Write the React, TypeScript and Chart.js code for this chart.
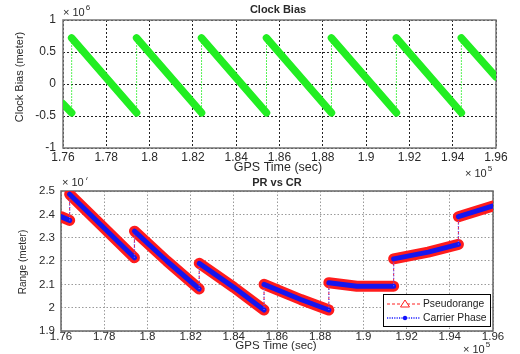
import React, { useEffect, useRef } from 'react';
import { Chart, registerables } from 'chart.js';

Chart.register(...registerables);

// ---- data ----
const xTicks = [1.76, 1.78, 1.8, 1.82, 1.84, 1.86, 1.88, 1.9, 1.92, 1.94, 1.96];
const clockTicks = [-1, -0.5, 0, 0.5, 1];
const rangeTicks = [1.9, 2, 2.1, 2.2, 2.3, 2.4, 2.5];

const clockTime = [1.76, 1.764, 1.764, 1.794, 1.794, 1.824, 1.824, 1.854, 1.854, 1.884, 1.884, 1.914, 1.914, 1.944, 1.944, 1.96];
const clockBias = [-0.31, -0.45, 0.72, -0.45, 0.72, -0.45, 0.72, -0.45, 0.72, -0.45, 0.72, -0.45, 0.72, -0.45, 0.72, 0.11];

const rangeTime = [1.76, 1.764, 1.764, 1.779, 1.794, 1.794, 1.809, 1.824, 1.824, 1.84, 1.854, 1.854, 1.871, 1.884, 1.884, 1.897, 1.914, 1.914, 1.93, 1.944, 1.944, 1.96];
const pseudorange = [2.39, 2.374, 2.486, 2.35, 2.214, 2.328, 2.2, 2.08, 2.19, 2.087, 1.99, 2.1, 2.035, 1.99, 2.107, 2.092, 2.092, 2.209, 2.238, 2.271, 2.39, 2.436];
const carrierPhase = [2.39, 2.374, 2.486, 2.35, 2.214, 2.328, 2.2, 2.08, 2.19, 2.087, 1.99, 2.1, 2.035, 1.99, 2.107, 2.092, 2.092, 2.209, 2.238, 2.271, 2.39, 2.436];

const FONT = '"Liberation Sans", Arial, Helvetica, sans-serif';

type Txt = { text: string; x: number; y: number; size: number; bold?: boolean; rotate?: boolean; sup?: string; align?: CanvasTextAlign };

const isJump = (c: any) => c.p0.parsed.x === c.p1.parsed.x;

function drawTexts(ctx: CanvasRenderingContext2D, items: Txt[]) {
  ctx.save();
  ctx.fillStyle = '#2a2a2a';
  ctx.textBaseline = 'middle';
  for (const t of items) {
    ctx.font = `${t.bold ? 'bold ' : ''}${t.size}px ${FONT}`;
    if (t.rotate) {
      ctx.save();
      ctx.translate(t.x, t.y);
      ctx.rotate(-Math.PI / 2);
      ctx.textAlign = 'center';
      ctx.fillText(t.text, 0, 0);
      ctx.restore();
    } else {
      ctx.textAlign = t.align || 'center';
      ctx.fillText(t.text, t.x, t.y);
      if (t.sup) {
        const w = ctx.measureText(t.text).width;
        ctx.font = `8px ${FONT}`;
        ctx.textAlign = 'left';
        ctx.fillText(t.sup, t.x + w + 1, t.y - 5);
      }
    }
  }
  ctx.restore();
}

function framePlugin(texts: Txt[], frameColor: string, legend: boolean) {
  return {
    id: 'framePlugin',
    beforeDatasetsDraw(chart: any) {
      const { ctx, chartArea: a } = chart;
      ctx.save();
      ctx.strokeStyle = frameColor;
      ctx.lineWidth = 1.5;
      ctx.strokeRect(a.left, a.top, a.right - a.left, a.bottom - a.top);
      ctx.restore();
    },
    afterDraw(chart: any) {
      const ctx: CanvasRenderingContext2D = chart.ctx;
      drawTexts(ctx, texts);
      if (legend) {
        const bx = 383, by = 117, bw = 107, bh = 32;
        ctx.save();
        ctx.fillStyle = '#fff';
        ctx.fillRect(bx, by, bw, bh);
        ctx.strokeStyle = '#000';
        ctx.lineWidth = 1;
        ctx.strokeRect(bx + 0.5, by + 0.5, bw, bh);
        // Pseudorange
        const y1 = by + 10, y2 = by + 24;
        ctx.strokeStyle = '#ff2020';
        ctx.setLineDash([3, 2]);
        ctx.beginPath();
        ctx.moveTo(387, y1); ctx.lineTo(420, y1); ctx.stroke();
        ctx.setLineDash([]);
        ctx.fillStyle = '#fff';
        ctx.beginPath();
        ctx.moveTo(405, y1 - 4); ctx.lineTo(409.5, y1 + 3); ctx.lineTo(400.5, y1 + 3); ctx.closePath();
        ctx.fill(); ctx.stroke();
        // Carrier phase
        ctx.strokeStyle = '#2020ff';
        ctx.lineWidth = 1.6;
        ctx.setLineDash([1.2, 1.2]);
        ctx.beginPath();
        ctx.moveTo(387, y2); ctx.lineTo(420, y2); ctx.stroke();
        ctx.setLineDash([]);
        ctx.fillStyle = '#1010ff';
        ctx.beginPath();
        ctx.arc(405, y2, 2.2, 0, Math.PI * 2);
        ctx.fill();
        ctx.fillStyle = '#222';
        ctx.font = `10.3px ${FONT}`;
        ctx.textAlign = 'left';
        ctx.textBaseline = 'middle';
        ctx.fillText('Pseudorange', 423, y1);
        ctx.fillText('Carrier Phase', 423, y2);
        ctx.restore();
      }
    },
  };
}

function axisOpts(min: number, max: number, ticks: number[], fit: (s: any) => void, gridColor: string, dash: number[], pad: number, size: number) {
  return {
    type: 'linear' as const,
    min,
    max,
    afterBuildTicks: (s: any) => {
      s.ticks = ticks.map((v) => ({ value: v }));
    },
    afterFit: fit,
    grid: { color: gridColor, lineWidth: 1, drawTicks: false },
    border: { display: false, dash },
    ticks: {
      autoSkip: false,
      maxRotation: 0,
      padding: pad,
      color: '#2a2a2a',
      font: { family: FONT, size },
      callback: (v: any) => String(v),
    },
  };
}

function TopChart() {
  const ref = useRef<HTMLCanvasElement>(null);
  useEffect(() => {
    const texts: Txt[] = [
      { text: 'Clock Bias', x: 278, y: 10, size: 11, bold: true },
      { text: 'GPS Time (sec)', x: 278, y: 168, size: 12.5 },
      { text: 'Clock Bias (meter)', x: 20, y: 77, size: 11, rotate: true },
      { text: '× 10', x: 63, y: 13, size: 11, align: 'left', sup: '6' },
      { text: '× 10', x: 465, y: 174, size: 11, align: 'left', sup: '5' },
    ];
    const chart = new Chart(ref.current!, {
      type: 'line',
      data: {
        datasets: [
          {
            label: 'Clock Bias',
            data: clockTime.map((x, i) => ({ x, y: clockBias[i] })),
            borderColor: '#22ee22',
            borderWidth: 7.5,
            borderCapStyle: 'round',
            borderJoinStyle: 'round',
            pointRadius: 0,
            segment: {
              borderWidth: (c: any) => (isJump(c) ? 1 : undefined),
              borderDash: (c: any) => (isJump(c) ? [1.5, 1.5] : undefined),
              borderCapStyle: (c: any) => (isJump(c) ? 'butt' : undefined),
            },
          } as any,
        ],
      },
      options: {
        animation: false,
        responsive: false,
        layout: { padding: { left: 0, top: 20, right: 24, bottom: 0 } },
        plugins: { legend: { display: false }, tooltip: { enabled: false } },
        scales: {
          x: axisOpts(1.76, 1.96, xTicks, (s: any) => { s.height = 32; }, '#222', [2, 2], 2, 12),
          y: axisOpts(-1, 1, clockTicks, (s: any) => { s.width = 63; }, '#222', [2, 2], 7, 12),
        },
      } as any,
      plugins: [framePlugin(texts, '#777', false)],
    });
    return () => chart.destroy();
  }, []);
  return <canvas ref={ref} width={520} height={180} style={{ width: 520, height: 180, display: 'block' }} />;
}

function BottomChart() {
  const ref = useRef<HTMLCanvasElement>(null);
  useEffect(() => {
    const texts: Txt[] = [
      { text: 'PR vs CR', x: 277, y: 6, size: 11, bold: true },
      { text: 'GPS Time (sec)', x: 276, y: 169, size: 11.5 },
      { text: 'Range (meter)', x: 23, y: 85, size: 10, rotate: true },
      { text: '× 10', x: 62, y: 5.5, size: 11, align: 'left', sup: '7' },
      { text: '× 10', x: 463, y: 172.5, size: 11, align: 'left', sup: '5' },
    ];
    const chart = new Chart(ref.current!, {
      type: 'line',
      data: {
        datasets: [
          {
            label: 'Pseudorange',
            order: 2,
            data: rangeTime.map((x, i) => ({ x, y: pseudorange[i] })),
            borderColor: '#ff1c1c',
            borderWidth: 11,
            borderCapStyle: 'round',
            borderJoinStyle: 'round',
            pointRadius: 0,
            segment: {
              borderWidth: (c: any) => (isJump(c) ? 1 : undefined),
              borderDash: (c: any) => (isJump(c) ? [3, 2] : undefined),
              borderCapStyle: (c: any) => (isJump(c) ? 'butt' : undefined),
            },
          } as any,
          {
            label: 'Carrier Phase',
            order: 1,
            data: rangeTime.map((x, i) => ({ x, y: carrierPhase[i] })),
            borderColor: '#1515f0',
            borderWidth: 5,
            borderCapStyle: 'round',
            borderJoinStyle: 'round',
            pointRadius: 0,
            segment: {
              borderWidth: (c: any) => (isJump(c) ? 1.3 : undefined),
              borderDash: (c: any) => (isJump(c) ? [1, 1.5] : undefined),
              borderColor: (c: any) => (isJump(c) ? '#6a5cff' : undefined),
              borderCapStyle: (c: any) => (isJump(c) ? 'butt' : undefined),
            },
          } as any,
        ],
      },
      options: {
        animation: false,
        responsive: false,
        layout: { padding: { left: 0, top: 14, right: 27, bottom: 0 } },
        plugins: { legend: { display: false }, tooltip: { enabled: false } },
        scales: {
          x: axisOpts(1.76, 1.96, xTicks, (s: any) => { s.height = 23; }, '#9a9a9a', [1.5, 2], -1, 11.5),
          y: axisOpts(1.9, 2.5, rangeTicks, (s: any) => { s.width = 61; }, '#9a9a9a', [1.5, 2], 6, 11.5),
        },
      } as any,
      plugins: [framePlugin(texts, '#666', true)],
    });
    return () => chart.destroy();
  }, []);
  return <canvas ref={ref} width={520} height={177} style={{ width: 520, height: 177, display: 'block' }} />;
}

export default function App() {
  return (
    <div style={{ position: 'absolute', left: 0, top: 0, width: 520, height: 354, background: '#fff', overflow: 'hidden' }}>
      <div style={{ position: 'absolute', left: 0, top: 0, width: 520, height: 180 }}>
        <TopChart />
      </div>
      <div style={{ position: 'absolute', left: 0, top: 177, width: 520, height: 177 }}>
        <BottomChart />
      </div>
    </div>
  );
}
